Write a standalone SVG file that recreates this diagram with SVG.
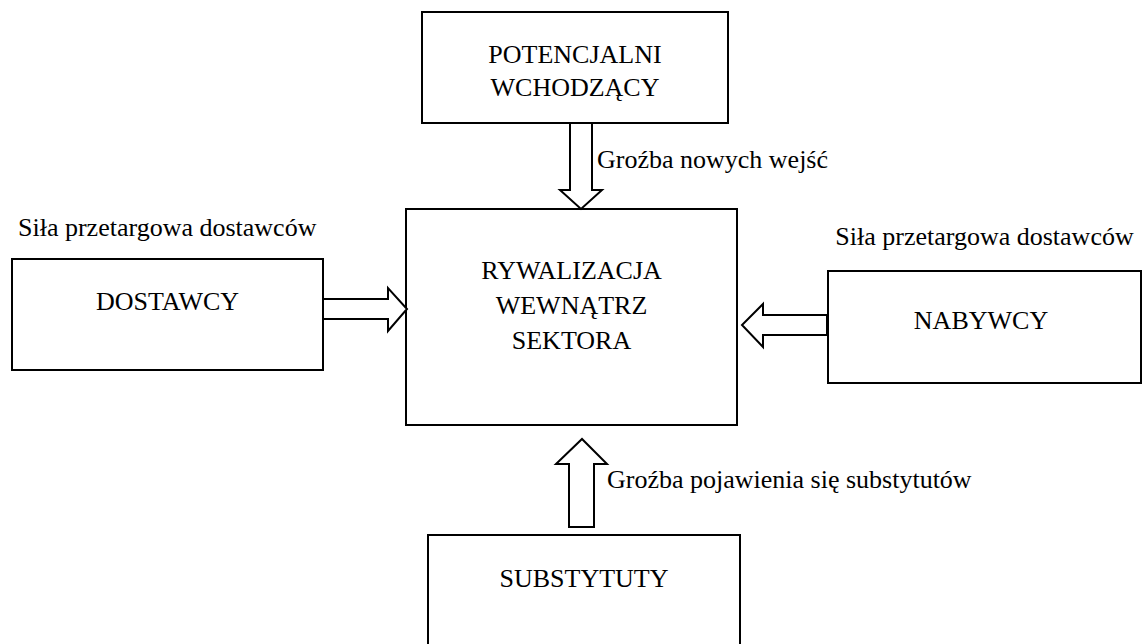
<svg xmlns="http://www.w3.org/2000/svg" width="1144" height="644" viewBox="0 0 1144 644">
  <style>
    .box { fill: #ffffff; stroke: #000000; stroke-width: 2; }
    .arrow { fill: #ffffff; stroke: #000000; stroke-width: 2; stroke-linejoin: miter; }
    text { font-family: "Liberation Serif", "Times New Roman", serif; font-size: 26px; fill: #000000; }
    .c { text-anchor: middle; }
  </style>
  <rect width="1144" height="644" fill="#ffffff"/>

  <!-- Five forces: nodes -->
  <g id="potencjalni">
    <rect class="box" x="422" y="12" width="306" height="111"/>
    <text class="c" x="575" y="63">POTENCJALNI</text>
    <text class="c" x="575" y="96">WCHODZĄCY</text>
  </g>

  <g id="rywalizacja">
    <rect class="box" x="406" y="209" width="331" height="216"/>
    <text class="c" x="571.5" y="279">RYWALIZACJA</text>
    <text class="c" x="571.5" y="314">WEWNĄTRZ</text>
    <text class="c" x="571.5" y="349">SEKTORA</text>
  </g>

  <g id="dostawcy">
    <rect class="box" x="12" y="259" width="311" height="111"/>
    <text class="c" x="167.5" y="310">DOSTAWCY</text>
  </g>

  <g id="nabywcy">
    <rect class="box" x="828" y="271" width="313" height="112"/>
    <text class="c" x="981" y="329">NABYWCY</text>
  </g>

  <g id="substytuty">
    <rect class="box" x="428" y="535" width="312" height="120"/>
    <text class="c" x="584" y="587">SUBSTYTUTY</text>
  </g>

  <!-- Block arrows and their labels -->
  <g id="connectors">
    <polygon class="arrow" points="570,123 592,123 592,190 602,190 581,209 560,190 570,190"/>
    <text x="597" y="168">Groźba nowych wejść</text>

    <polygon class="arrow" points="323,299 388,299 388,288 407,309 388,331 388,319 323,319"/>
    <text x="18" y="236">Siła przetargowa dostawców</text>

    <polygon class="arrow" points="827,315 763,315 763,304 742,325 763,347 763,335 827,335"/>
    <text class="c" x="984.5" y="245">Siła przetargowa dostawców</text>

    <polygon class="arrow" points="569,527 569,464 556,464 582,439 607,464 594,464 594,527"/>
    <text x="607" y="488">Groźba pojawienia się substytutów</text>
  </g>
</svg>
